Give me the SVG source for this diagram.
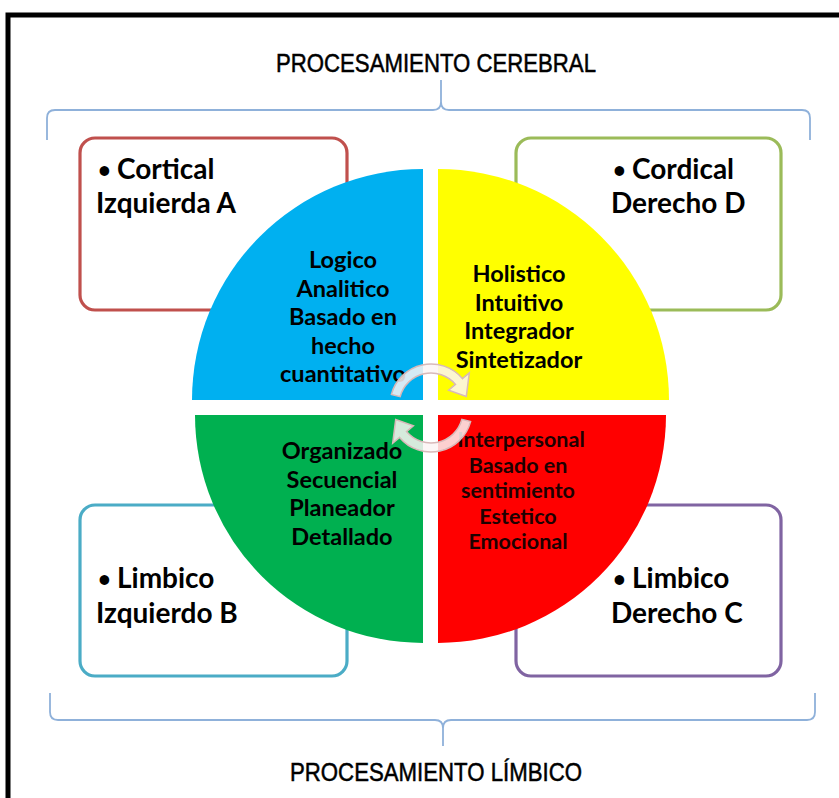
<svg xmlns="http://www.w3.org/2000/svg" width="839" height="798" viewBox="0 0 839 798">
<style>
.box{fill:#fff;stroke-width:3.2}
.lbl{font-family:Lato,"Open Sans","Liberation Sans",sans-serif;font-weight:bold;font-size:28px;fill:#000}
.bul{font-family:Lato,"Open Sans","Liberation Sans",sans-serif;font-weight:bold;font-size:22px;fill:#000}
.q{font-family:Lato,"Open Sans","Liberation Sans",sans-serif;font-weight:bold;font-size:23.5px;fill:#000;text-anchor:middle}
.qr{font-family:Lato,"Open Sans","Liberation Sans",sans-serif;font-weight:bold;font-size:21.5px;fill:#1e0000;text-anchor:middle}
.title{font-family:"Liberation Sans Narrow","Liberation Sans",Arial,sans-serif;font-size:25px;fill:#000;stroke:#000;stroke-width:0.5;text-anchor:middle}
.brace{fill:none;stroke:#8fb1da;stroke-width:1.8}
.arr{fill:#fbf4f4;fill-opacity:0.85;stroke:#d8b9b9;stroke-width:1.5}
</style>
<rect x="0" y="0" width="839" height="798" fill="#fff"/>
<rect x="8" y="15" width="860" height="820" fill="none" stroke="#000" stroke-width="5"/>

<g id="title-top"><text class="title" x="436" y="72" textLength="320" lengthAdjust="spacingAndGlyphs">PROCESAMIENTO CEREBRAL</text></g>
<g id="title-bottom"><text class="title" x="436" y="781" textLength="292" lengthAdjust="spacingAndGlyphs">PROCESAMIENTO LÍMBICO</text></g>

<g id="connectors">
<path class="brace" d="M47,140 V118 Q47,110 55,110 H433 Q441,110 441,102 V80 M441,102 Q441,110 449,110 H802 Q810,110 810,118 V140"/>
<path class="brace" d="M50,693 V712 Q50,720 58,720 H435 Q443,720 443,728 V746 M443,728 Q443,720 451,720 H807 Q815,720 815,712 V693"/>
</g>

<g id="box-a"><rect class="box" x="80" y="138" width="267" height="172" rx="15" stroke="#c0504d"/>
<text class="bul" x="98" y="178">•</text><text class="lbl" x="117" y="179">Cortical</text>
<text class="lbl" x="96" y="213">Izquierda A</text></g>
<g id="box-d"><rect class="box" x="516" y="138" width="265" height="172" rx="15" stroke="#9bbb59"/>
<text class="bul" x="613" y="178">•</text><text class="lbl" x="632" y="179">Cordical</text>
<text class="lbl" x="611" y="213">Derecho D</text></g>
<g id="box-b"><rect class="box" x="80" y="505" width="267" height="171" rx="15" stroke="#4bacc6"/>
<text class="bul" x="98" y="587">•</text><text class="lbl" x="117" y="588">Limbico</text>
<text class="lbl" x="96" y="623">Izquierdo B</text></g>
<g id="box-c"><rect class="box" x="516" y="505" width="265" height="171" rx="15" stroke="#8064a2"/>
<text class="bul" x="613" y="587">•</text><text class="lbl" x="632" y="588">Limbico</text>
<text class="lbl" x="611" y="623">Derecho C</text></g>

<g id="q-blue"><path d="M423,400 H192 A231,231 0 0 1 423,169 Z" fill="#00b0f0"/>
<text class="q"><tspan x="343" y="268">Logico</tspan><tspan x="343" y="296.5">Analitico</tspan><tspan x="343" y="325">Basado en</tspan><tspan x="343" y="353.5">hecho</tspan><tspan x="343" y="382">cuantitativo</tspan></text></g>
<g id="q-yellow"><path d="M438,400 V169 A231,231 0 0 1 669,400 Z" fill="#ffff00"/>
<text class="q"><tspan x="519" y="282">Holistico</tspan><tspan x="519" y="310.5">Intuitivo</tspan><tspan x="519" y="339">Integrador</tspan><tspan x="519" y="367.5">Sintetizador</tspan></text></g>
<g id="q-green"><path d="M423,415 V643 A228,228 0 0 1 195,415 Z" fill="#00b050"/>
<text class="q"><tspan x="342" y="459">Organizado</tspan><tspan x="342" y="487.5">Secuencial</tspan><tspan x="342" y="516">Planeador</tspan><tspan x="342" y="544.5">Detallado</tspan></text></g>
<g id="q-red"><path d="M438,415 H666 A228,228 0 0 1 438,643 Z" fill="#ff0000"/>
<text class="qr"><tspan x="521" y="447">Interpersonal</tspan><tspan x="518" y="472.5">Basado en</tspan><tspan x="518" y="498">sentimiento</tspan><tspan x="518" y="523.5">Estetico</tspan><tspan x="518" y="549">Emocional</tspan></text></g>

<g id="cycle-arrows">
<path class="arr" d="M391.4,394.4 A41,41 0 0 1 462.4,378.6 L469.3,372.9 L466.3,396.4 L448.6,390.2 L455.5,384.4 A32,32 0 0 0 400.1,396.7 Z"/>
<path class="arr" transform="rotate(180 431 408)" d="M391.4,394.4 A41,41 0 0 1 462.4,378.6 L469.3,372.9 L466.3,396.4 L448.6,390.2 L455.5,384.4 A32,32 0 0 0 400.1,396.7 Z"/>
</g>
</svg>
